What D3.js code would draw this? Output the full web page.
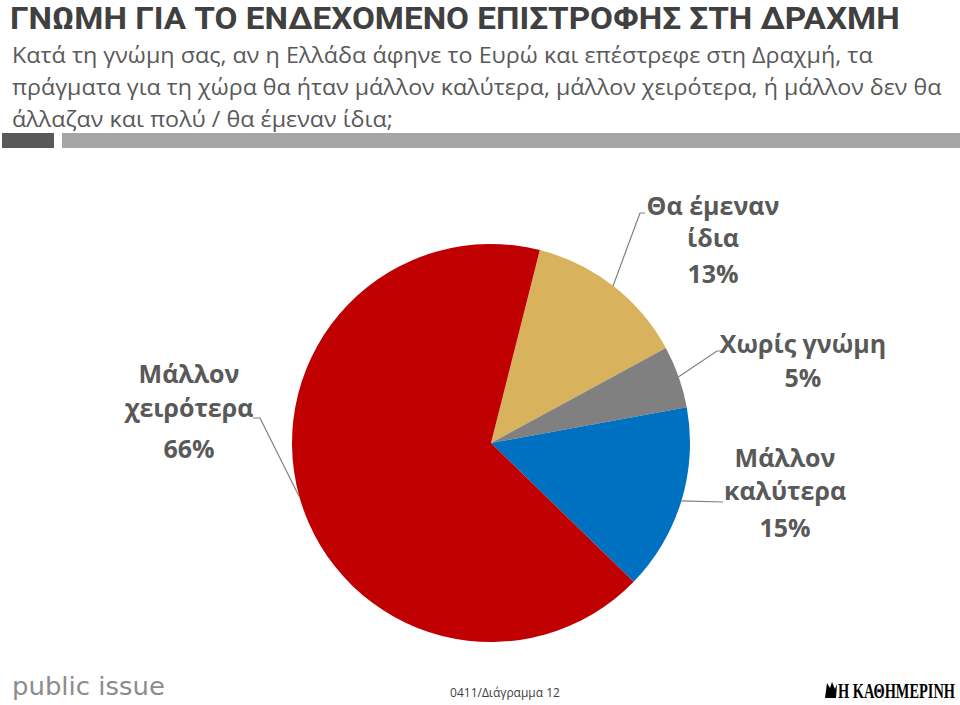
<!DOCTYPE html>
<html>
<head>
<meta charset="utf-8">
<script src="https://cdn.jsdelivr.net/npm/d3@7"></script>
<style>
  html, body { margin: 0; padding: 0; background: #fff; }
  svg { display: block; }
</style>
</head>
<body>
<svg id="chart" width="960" height="705"></svg>
<script>
// ---- data ----
const titleText = "ΓΝΩΜΗ ΓΙΑ ΤΟ ΕΝΔΕΧΟΜΕΝΟ ΕΠΙΣΤΡΟΦΗΣ ΣΤΗ ΔΡΑΧΜΗ";
const subtitleLines = [
  "Κατά τη γνώμη σας, αν η Ελλάδα άφηνε το Ευρώ και επέστρεφε στη Δραχμή, τα",
  "πράγματα για τη χώρα θα ήταν μάλλον καλύτερα, μάλλον χειρότερα, ή μάλλον δεν θα",
  "άλλαζαν και πολύ / θα έμεναν ίδια;"
];
const categories = ["Θα έμεναν ίδια", "Χωρίς γνώμη", "Μάλλον καλύτερα", "Μάλλον χειρότερα"];
const labelLines = [["Θα έμεναν", "ίδια"], ["Χωρίς γνώμη"], ["Μάλλον", "καλύτερα"], ["Μάλλον", "χειρότερα"]];
const values = [13, 5, 15, 66];
const colors = ["#D8B25C", "#808080", "#0070C0", "#C00000"];
const footerCode = "0411/Διάγραμμα 12";

// ---- layout ----
const svg = d3.select("#chart");
const cx = 491, cy = 443, R = 199;
const startDeg = 14.2;
const labelLayout = [
  { elbow: [640, 213], end: [645, 213], x: 713, ys: [215, 247, 283] },
  { elbow: [717, 351], end: [722, 351], x: 803, ys: [353, 387] },
  { elbow: null,        end: [723, 502], x: 785, ys: [467, 500, 537] },
  { elbow: [260, 418], end: [253, 418], x: 189, ys: [383, 417, 458] }
];
const FONT = "'Open Sans', 'Noto Sans', sans-serif";

// fit a text to a given width by horizontal scaling
function fitText(sel, x, y, width) {
  const w = sel.node().getComputedTextLength();
  sel.attr("transform", `translate(${x},${y}) scale(${width / w},1)`);
}

// title
const title = svg.append("text")
  .attr("font-family", "Roboto, 'Open Sans', sans-serif").attr("font-weight", "bold")
  .attr("font-size", 31).attr("fill", "#404040")
  .text(titleText);
fitText(title, 10, 29, 890);

// subtitle
const subW = [861, 930, 381];
svg.selectAll("text.sub").data(subtitleLines).enter().append("text")
  .attr("class", "sub")
  .attr("font-family", FONT)
  .attr("font-size", 22).attr("fill", "#595959")
  .text(d => d)
  .each(function (d, i) { fitText(d3.select(this), 12, 63 + i * 32, subW[i]); });

// header bars
svg.append("rect").attr("x", 2).attr("y", 133).attr("width", 52).attr("height", 15).attr("fill", "#595959");
svg.append("rect").attr("x", 62).attr("y", 133).attr("width", 898).attr("height", 15).attr("fill", "#A6A6A6");

// pie
const pie = d3.pie().sort(null).value(d => d)
  .startAngle(startDeg * Math.PI / 180)
  .endAngle(startDeg * Math.PI / 180 + 2 * Math.PI);
const arcs = pie(values);
const arc = d3.arc().innerRadius(0).outerRadius(R);
const g = svg.append("g").attr("transform", `translate(${cx},${cy})`);
g.selectAll("path").data(arcs).enter().append("path")
  .attr("d", arc)
  .attr("fill", (d, i) => colors[i]);

// leader lines and labels
arcs.forEach((a, i) => {
  const mid = (a.startAngle + a.endAngle) / 2;
  const p0 = [cx + R * Math.sin(mid), cy - R * Math.cos(mid)];
  const L = labelLayout[i];
  const pts = [p0];
  if (L.elbow) pts.push(L.elbow);
  pts.push(L.end);
  svg.append("path")
    .attr("d", d3.line()(pts))
    .attr("fill", "none").attr("stroke", "#7F7F7F").attr("stroke-width", 1.2);
  const lines = labelLines[i].concat([values[i] + "%"]);
  lines.forEach((t, j) => {
    svg.append("text")
      .attr("x", L.x).attr("y", L.ys[j])
      .attr("text-anchor", "middle")
      .attr("font-family", FONT).attr("font-weight", "bold")
      .attr("font-size", 25).attr("fill", "#595959")
      .text(t);
  });
});

// footer
const pi = svg.append("text")
  .attr("font-family", "'DejaVu Sans', sans-serif")
  .attr("font-size", 24).attr("fill", "#8C8C8C")
  .text("public issue");
fitText(pi, 12, 695, 153);

svg.append("text")
  .attr("x", 505).attr("y", 697)
  .attr("text-anchor", "middle")
  .attr("font-family", FONT)
  .attr("font-size", 12).attr("fill", "#404040")
  .text(footerCode);

// Kathimerini logo (emblem + text)
svg.append("path")
  .attr("d", "M825,698 L827,683 L830,688 L832,682 L835,689 L837,684 L836,698 Z")
  .attr("fill", "#000");
const kath = svg.append("text")
  .attr("font-family", "'Liberation Serif', serif").attr("font-weight", "bold")
  .attr("font-size", 22).attr("fill", "#000")
  .text("Η ΚΑΘΗΜΕΡΙΝΗ");
fitText(kath, 838, 698, 117);
</script>
</body>
</html>
